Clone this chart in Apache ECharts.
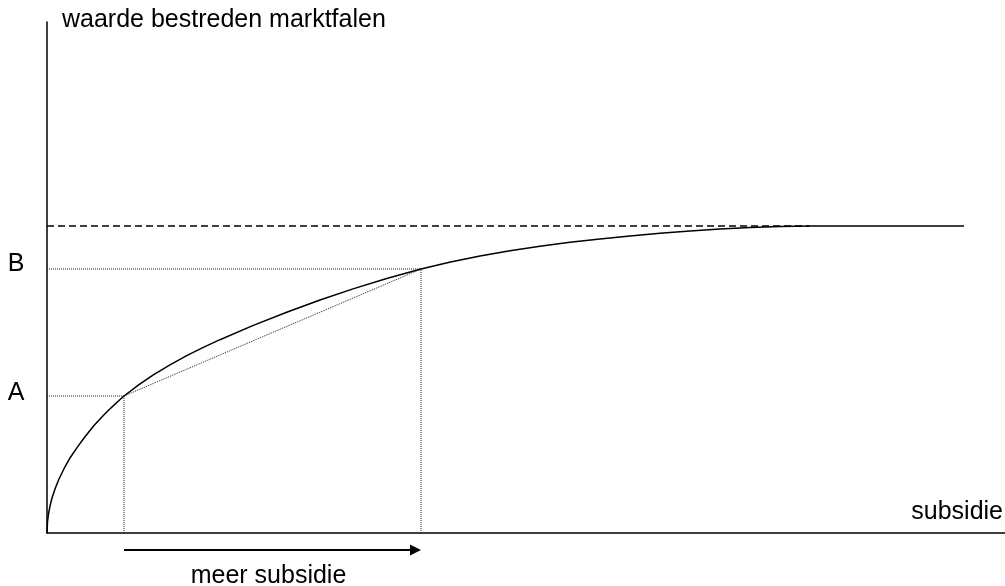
<!DOCTYPE html>
<html>
<head>
<meta charset="utf-8">
<script src="https://cdn.jsdelivr.net/npm/echarts@6/dist/echarts.min.js"></script>
<style>
  html, body { margin: 0; padding: 0; background: #fff; }
  #main { width: 1005px; height: 586px; }
</style>
</head>
<body>
<div id="main"></div>
<script>
// curve: waarde bestreden marktfalen against subsidie (axis units 0..100)
const curveX = [0, 0.052, 0.157, 0.313, 0.522, 0.835, 1.253, 1.775, 2.401, 3.132, 3.967, 4.906,
  5.95, 6.472, 6.994, 7.516, 8.038, 9.603, 11.096, 12.839, 14.582, 16.315, 18.058,
  21.534, 25.021, 28.497, 31.942, 35.459, 39.04, 42.119, 45.198, 48.33, 51.461,
  54.593, 57.724, 60.856, 63.987, 67.119, 70.251, 73.382, 76.514, 79.645, 95.72]
const curveY = [0, 2.15, 3.72, 5.28, 6.85, 8.61, 10.57, 12.58, 14.68, 16.71, 18.83, 21.04,
  23.13, 24.11, 25.03, 25.93, 26.81, 29.04, 30.94, 32.9, 34.7, 36.32, 37.83,
  40.63, 43.21, 45.6, 47.77, 49.8, 51.66, 53.05, 54.21, 55.23, 56.12,
  56.88, 57.55, 58.14, 58.65, 59.1, 59.47, 59.77, 59.96, 60.08, 60.08]

const level = 60.08     // maximum value (dashed line)
const levelEnd = 79.6   // where the dashed line meets the curve
const pointA = [8.038, 26.81]
const pointB = [39.04, 51.66]
const pointLabels = ['A', 'B']

const FONT = 'Liberation Sans, Arial, sans-serif'
const chart = echarts.init(document.getElementById('main'))

function guide(data) {
  return {
    type: 'line',
    data: data,
    symbol: 'none',
    silent: true,
    lineStyle: { color: '#222', width: 1, type: [1, 1] },
    z: 1
  }
}

let option = {
  animation: false,
  backgroundColor: '#fff',
  grid: { left: 47, right: 0, top: 22, bottom: 53 },
  xAxis: {
    type: 'value',
    min: 0,
    max: 100,
    axisLine: { show: true, onZero: false, lineStyle: { color: '#000', width: 1.5 } },
    axisTick: { show: false },
    axisLabel: { show: false },
    splitLine: { show: false }
  },
  yAxis: {
    type: 'value',
    min: 0,
    max: 100,
    axisLine: { show: true, onZero: false, lineStyle: { color: '#000', width: 1.5 } },
    axisTick: { show: false },
    axisLabel: { show: false },
    splitLine: { show: false }
  },
  series: [
    {
      type: 'line',
      data: [[0, level], [levelEnd, level]],
      symbol: 'none',
      silent: true,
      lineStyle: { color: '#000', width: 1.3, type: [7, 4] },
      z: 2
    },
    guide([[0, pointA[1]], pointA]),
    guide([[pointA[0], 0], pointA]),
    guide([[0, pointB[1]], pointB]),
    guide([[pointB[0], 0], pointB]),
    guide([pointA, pointB]),
    {
      type: 'line',
      data: curveX.map((x, i) => [x, curveY[i]]),
      symbol: 'none',
      smooth: false,
      silent: true,
      lineStyle: { color: '#000', width: 1.5, join: 'round' },
      z: 3
    }
  ]
}
chart.setOption(option)

// annotations placed through the chart's own scales
let pA = chart.convertToPixel({ gridIndex: 0 }, pointA)
let pB = chart.convertToPixel({ gridIndex: 0 }, pointB)
let origin = chart.convertToPixel({ gridIndex: 0 }, [0, 0])
let arrowY = origin[1] + 17

let textStyle = (txt, x, y, align) => ({
  type: 'text',
  x: x,
  y: y,
  style: {
    text: txt,
    fill: '#000',
    font: '25px ' + FONT,
    textAlign: align,
    textVerticalAlign: 'middle'
  }
})

chart.setOption({
  graphic: [
    textStyle('waarde bestreden marktfalen', 62, 20, 'left'),
    textStyle('subsidie', 1003, 512, 'right'),
    textStyle(pointLabels[0], 16, pA[1] - 3, 'center'),
    textStyle(pointLabels[1], 16, pB[1] - 5, 'center'),
    textStyle('meer subsidie', (pA[0] + pB[0]) / 2 - 4, origin[1] + 43, 'center'),
    {
      type: 'line',
      shape: { x1: pA[0], y1: arrowY, x2: pB[0] - 8, y2: arrowY },
      style: { stroke: '#000', lineWidth: 2 }
    },
    {
      type: 'polygon',
      shape: { points: [[pB[0] - 11, arrowY - 5.5], [pB[0], arrowY], [pB[0] - 11, arrowY + 5.5]] },
      style: { fill: '#000' }
    }
  ]
})
</script>
</body>
</html>
